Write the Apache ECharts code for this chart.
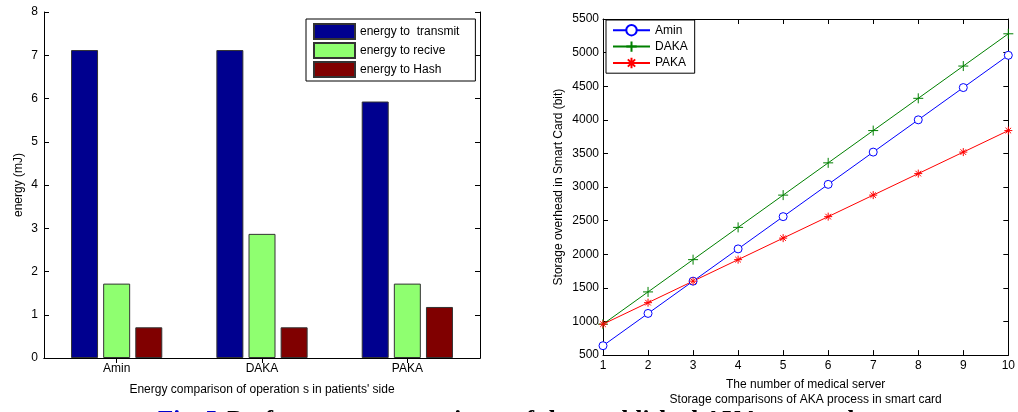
<!DOCTYPE html>
<html>
<head>
<meta charset="utf-8">
<script src="https://cdn.jsdelivr.net/npm/echarts@6/dist/echarts.min.js"></script>
<style>
  html, body { margin: 0; padding: 0; background: #fff; }
  #chart { width: 1018px; height: 412px; }
</style>
</head>
<body>
<div id="chart"></div>
<script>
// left chart: energy per scheme
const schemes = ["Amin", "DAKA", "PAKA"];
const energyTransmit = [7.12, 7.12, 5.93];
const energyReceive = [1.72, 2.87, 1.72];
const energyHash = [0.71, 0.71, 1.18];

// right chart: storage overhead
const servers = [1, 2, 3, 4, 5, 6, 7, 8, 9, 10];
const storageAmin = [640, 1120, 1600, 2080, 2560, 3040, 3520, 4000, 4480, 4960];
const storageDaka = [960, 1440, 1920, 2400, 2880, 3360, 3840, 4320, 4800, 5280];
const storagePaka = [960, 1280, 1600, 1920, 2240, 2560, 2880, 3200, 3520, 3840];

const FONT = "Liberation Sans, Arial, sans-serif";
const txt = { color: "#000", fontFamily: FONT, fontSize: 12 };

const plusPath = "path://M5,0L5,10M0,5L10,5";
const starPath = "path://M5,0L5,10M0,5L10,5M1.5,1.5L8.5,8.5M8.5,1.5L1.5,8.5";

const chart = echarts.init(document.getElementById("chart"));

// top / right sides of the box
const frameAxis = (extra) => Object.assign({
  axisLine: { show: true, lineStyle: { color: "#000", width: 1 } },
  axisTick: { show: true, inside: true, length: 5, lineStyle: { color: "#000" } },
  axisLabel: { show: false },
  splitLine: { show: false }
}, extra);

const barStyle = (color) => ({ color: color, borderColor: "#333", borderWidth: 1 });
const plain = (v) => String(v);

chart.setOption({
  animation: false,
  backgroundColor: "#fff",
  textStyle: txt,
  grid: [
    { left: 44, top: 12, width: 436, height: 346 },
    { left: 603, top: 19, width: 407, height: 339 }
  ],
  legend: [
    {
      data: ["energy to  transmit", "energy to recive", "energy to Hash"],
      orient: "vertical",
      left: 306,
      top: 19,
      padding: [4, 16, 3, 7],
      itemGap: 2,
      itemWidth: 41,
      itemHeight: 15,
      icon: "rect",
      borderColor: "#000",
      borderWidth: 1,
      backgroundColor: "#fff",
      textStyle: txt
    },
    {
      data: ["Amin", "DAKA", "PAKA"],
      orient: "vertical",
      left: 606,
      top: 20,
      padding: [4, 7, 4, 6],
      itemGap: 4,
      itemWidth: 37,
      itemHeight: 13,
      borderColor: "#000",
      borderWidth: 1,
      backgroundColor: "#fff",
      textStyle: txt
    }
  ],
  xAxis: [
    {
      gridIndex: 0,
      type: "category",
      data: schemes,
      position: "bottom",
      axisLine: { lineStyle: { color: "#000", width: 1 } },
      axisTick: { show: false },
      axisLabel: { color: "#000", fontFamily: FONT, fontSize: 12, margin: 5 },
      name: "Energy comparison of operation s in patients' side",
      nameLocation: "middle",
      nameGap: 26,
      nameTextStyle: txt
    },
    frameAxis({
      gridIndex: 0,
      type: "category",
      data: schemes,
      position: "top",
      axisTick: { show: true, inside: true, length: 5, alignWithLabel: true, lineStyle: { color: "#000" } }
    }),
    {
      gridIndex: 1,
      type: "value",
      min: 1,
      max: 10,
      interval: 1,
      position: "bottom",
      axisLine: { lineStyle: { color: "#000", width: 1 } },
      axisTick: { inside: true, length: 5, lineStyle: { color: "#000" } },
      axisLabel: { color: "#000", fontFamily: FONT, fontSize: 12, margin: 5, formatter: plain },
      splitLine: { show: false },
      name: "The number of medical server\nStorage comparisons of AKA process in smart card",
      nameLocation: "middle",
      nameGap: 21,
      nameTextStyle: Object.assign({ lineHeight: 15, align: "center", verticalAlign: "top" }, txt)
    },
    frameAxis({ gridIndex: 1, type: "value", min: 1, max: 10, interval: 1, position: "top" })
  ],
  yAxis: [
    {
      gridIndex: 0,
      type: "value",
      min: 0,
      max: 8,
      interval: 1,
      position: "left",
      axisLine: { show: true, lineStyle: { color: "#000", width: 1 } },
      axisTick: { show: true, inside: true, length: 5, lineStyle: { color: "#000" } },
      axisLabel: { color: "#000", fontFamily: FONT, fontSize: 12, margin: 6, formatter: plain },
      splitLine: { show: false },
      name: "energy (mJ)",
      nameLocation: "middle",
      nameGap: 19,
      nameTextStyle: txt
    },
    frameAxis({ gridIndex: 0, type: "value", min: 0, max: 8, interval: 1, position: "right" }),
    {
      gridIndex: 1,
      type: "value",
      min: 500,
      max: 5500,
      interval: 500,
      position: "left",
      axisLine: { show: true, lineStyle: { color: "#000", width: 1 } },
      axisTick: { show: true, inside: true, length: 5, lineStyle: { color: "#000" } },
      axisLabel: { color: "#000", fontFamily: FONT, fontSize: 12, margin: 4, formatter: plain },
      splitLine: { show: false },
      name: "Storage overhead in Smart Card (bit)",
      nameLocation: "middle",
      nameGap: 38,
      nameTextStyle: txt
    },
    frameAxis({ gridIndex: 1, type: "value", min: 500, max: 5500, interval: 500, position: "right" })
  ],
  series: [
    {
      name: "energy to  transmit",
      type: "bar",
      xAxisIndex: 0,
      yAxisIndex: 0,
      data: energyTransmit,
      barWidth: 27,
      barGap: "19%",
      itemStyle: barStyle("#00008F")
    },
    {
      name: "energy to recive",
      type: "bar",
      xAxisIndex: 0,
      yAxisIndex: 0,
      data: energyReceive,
      barWidth: 27,
      barGap: "19%",
      itemStyle: barStyle("#8FFF70")
    },
    {
      name: "energy to Hash",
      type: "bar",
      xAxisIndex: 0,
      yAxisIndex: 0,
      data: energyHash,
      barWidth: 27,
      barGap: "19%",
      itemStyle: barStyle("#800000")
    },
    {
      name: "Amin",
      type: "line",
      xAxisIndex: 2,
      yAxisIndex: 2,
      data: servers.map((x, i) => [x, storageAmin[i]]),
      symbol: "circle",
      symbolSize: 8,
      lineStyle: { color: "#0000FF", width: 1 },
      itemStyle: { color: "#fff", borderColor: "#0000FF", borderWidth: 1 }
    },
    {
      name: "DAKA",
      type: "line",
      xAxisIndex: 2,
      yAxisIndex: 2,
      data: servers.map((x, i) => [x, storageDaka[i]]),
      symbol: plusPath,
      symbolSize: 10,
      lineStyle: { color: "#008000", width: 1 },
      itemStyle: { color: "rgba(0,0,0,0)", borderColor: "#008000", borderWidth: 1 }
    },
    {
      name: "PAKA",
      type: "line",
      xAxisIndex: 2,
      yAxisIndex: 2,
      data: servers.map((x, i) => [x, storagePaka[i]]),
      symbol: starPath,
      symbolSize: 8,
      lineStyle: { color: "#FF0000", width: 1 },
      itemStyle: { color: "rgba(0,0,0,0)", borderColor: "#FF0000", borderWidth: 1 }
    }
  ],
  graphic: [
    {
      type: "text",
      left: 158,
      top: 409,
      style: {
        rich: {
          f: { fill: "#0000CC", font: "bold 25px 'Liberation Serif', serif" },
          t: { fill: "#000", font: "bold 25px 'Liberation Serif', serif" }
        },
        text: "{f|Fig. 5.} {t|Performance comparisons of the established AKA protocols}"
      }
    }
  ]
});
</script>
</body>
</html>
